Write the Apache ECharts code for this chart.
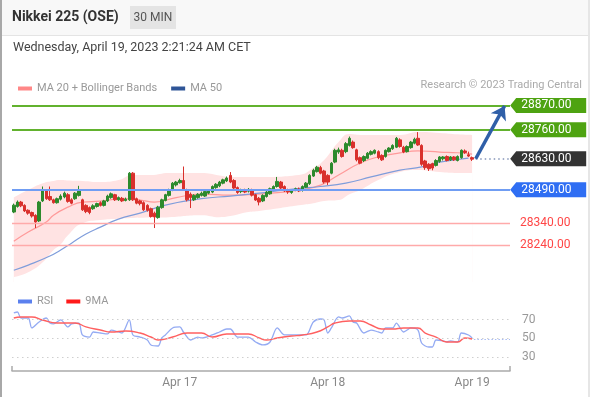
<!DOCTYPE html>
<html>
<head>
<meta charset="utf-8">
<script src="https://cdn.jsdelivr.net/npm/echarts@6/dist/echarts.min.js"></script>
<style>
html, body { margin: 0; padding: 0; background: #fff; }
#chart { width: 590px; height: 397px; }
</style>
</head>
<body>
<div id="chart"></div>
<script>
// 30 min candles, [open, close, low, high]
const candles = [
  [28390,28421,28385,28428],[28415,28435,28410,28442],[28435,28418,28412,28440],[28420,28395,28390,28425],
  [28398,28385,28378,28402],[28388,28372,28365,28392],[28375,28345,28318,28380],[28350,28435,28345,28440],
  [28440,28490,28435,28505],[28485,28450,28445,28492],[28460,28445,28440,28505],[28445,28432,28428,28450],
  [28432,28450,28428,28455],[28448,28462,28442,28470],[28458,28475,28452,28482],[28468,28438,28432,28475],
  [28445,28430,28425,28452],[28450,28475,28445,28480],[28465,28488,28460,28508],[28445,28400,28395,28450],
  [28420,28392,28385,28425],[28410,28388,28380,28415],[28405,28418,28400,28425],[28415,28428,28410,28432],
  [28432,28420,28415,28438],[28420,28440,28415,28445],[28440,28462,28435,28468],[28455,28472,28450,28478],
  [28468,28445,28440,28472],[28445,28455,28440,28460],[28452,28440,28435,28458],[28442,28448,28438,28455],
  [28445,28565,28440,28570],[28565,28445,28440,28570],[28450,28430,28425,28455],[28440,28428,28420,28445],
  [28432,28400,28395,28438],[28420,28398,28392,28425],[28405,28370,28365,28410],[28385,28368,28318,28392],
  [28365,28412,28360,28418],[28410,28445,28405,28450],[28442,28468,28438,28472],[28465,28490,28460,28495],
  [28488,28520,28484,28525],[28512,28525,28505,28530],[28522,28532,28518,28540],[28532,28490,28485,28595],
  [28490,28445,28438,28495],[28470,28455,28408,28478],[28445,28465,28440,28470],[28455,28470,28450,28475],
  [28465,28475,28460,28482],[28462,28482,28458,28488],[28475,28488,28470,28492],[28480,28505,28475,28510],
  [28500,28515,28495,28520],[28508,28525,28502,28530],[28520,28535,28515,28540],[28530,28543,28525,28550],
  [28555,28525,28520,28570],[28532,28498,28492,28538],[28500,28478,28472,28505],[28482,28490,28475,28495],
  [28488,28480,28475,28495],[28484,28492,28478,28498],[28490,28466,28460,28495],[28468,28444,28440,28472],
  [28452,28435,28420,28458],[28440,28465,28435,28470],[28460,28480,28455,28485],[28472,28495,28468,28500],
  [28490,28505,28485,28510],[28505,28528,28500,28548],[28525,28498,28492,28530],[28505,28485,28480,28510],
  [28490,28480,28472,28495],[28478,28488,28472,28492],[28488,28495,28484,28500],[28494,28485,28480,28500],
  [28488,28505,28482,28510],[28502,28520,28498,28525],[28518,28555,28512,28560],[28552,28578,28548,28585],
  [28572,28592,28568,28598],[28590,28565,28560,28598],[28575,28525,28518,28580],[28555,28525,28512,28560],
  [28565,28610,28560,28615],[28615,28668,28610,28675],[28660,28670,28652,28680],[28668,28640,28635,28675],
  [28662,28698,28655,28705],[28690,28722,28685,28730],[28705,28680,28675,28712],[28670,28625,28618,28675],
  [28635,28610,28605,28640],[28622,28640,28615,28645],[28632,28655,28628,28660],[28650,28662,28645,28668],
  [28655,28668,28650,28672],[28662,28635,28628,28668],[28645,28625,28620,28650],[28640,28668,28635,28672],
  [28662,28678,28658,28682],[28675,28690,28670,28695],[28682,28722,28678,28728],[28715,28685,28680,28722],
  [28682,28660,28655,28688],[28662,28685,28658,28690],[28680,28705,28675,28710],[28700,28718,28695,28725],
  [28722,28692,28688,28750],[28690,28605,28598,28695],[28620,28590,28580,28625],[28605,28585,28575,28610],
  [28608,28588,28578,28612],[28600,28622,28595,28628],[28618,28638,28612,28642],[28630,28638,28622,28642],
  [28640,28622,28618,28645],[28625,28638,28620,28642],[28638,28625,28620,28642],[28622,28640,28618,28645],
  [28635,28668,28630,28672],[28665,28658,28652,28672],[28648,28642,28638,28662],[28635,28628,28620,28640]
];

// slots on the time axis (candles + room for the projection)
const slotCount = 138;
const dayLabels = { 46: 'Apr 17', 87: 'Apr 18', 127: 'Apr 19' };

// [bar index, value]
const ma20 = [[0,28259],[4,28300],[9,28345],[11,28376],[15,28412],[19,28435],[24,28439],[30,28450],[35,28444],
  [39,28435],[45,28455],[52,28471],[60,28466],[68,28471],[79,28489],[85,28511],[90,28557],[96,28611],
  [101,28638],[107,28656],[112,28665],[118,28660],[123,28657],[127,28651]];
const ma50 = [[0,28128],[4,28151],[10,28192],[13,28219],[16,28250],[20,28291],[24,28322],[29,28358],[35,28385],
  [42,28421],[52,28450],[60,28462],[68,28475],[78,28495],[85,28505],[92,28520],[99,28548],[107,28579],
  [113,28593],[118,28615],[126,28633]];
const bbUpper = [[0,28455],[4,28490],[8,28520],[11,28530],[13,28534],[15,28532],[19,28530],[24,28525],[29,28534],
  [33,28557],[38,28557],[43,28566],[52,28566],[57,28555],[60,28548],[65,28548],[68,28548],[79,28557],
  [83,28588],[86,28624],[90,28705],[93,28741],[96,28737],[101,28737],[107,28737],[112,28750],[118,28746],
  [123,28740],[127,28737]];
const bbLower = [[0,28097],[4,28119],[8,28164],[11,28219],[13,28245],[15,28286],[19,28340],[24,28354],[29,28360],
  [33,28363],[38,28365],[43,28367],[52,28376],[57,28367],[60,28372],[65,28390],[68,28395],[79,28421],
  [83,28430],[86,28440],[90,28444],[93,28470],[96,28489],[101,28534],[107,28570],[112,28579],[118,28570],
  [123,28566],[127,28566]];

const rsi = [[0,77.2],[1,78.2],[2,71.8],[4,71.8],[5,61.1],[7,67.5],[9,71.8],[10,66.4],[11,65.4],[13,69.7],
  [15,62.2],[16,65.4],[18,66.4],[19,53.6],[21,51.4],[22,56.8],[24,55.7],[26,54.7],[27,58.9],[29,56.8],
  [30,55.7],[32,69.7],[33,53.6],[35,51.4],[37,48.2],[38,42.9],[40,41.8],[41,50.4],[42,53.6],[44,61.1],
  [46,62.2],[47,56.8],[49,48.2],[51,51.4],[52,50.4],[55,53.6],[57,56.8],[59,60.0],[60,60.0],[62,51.4],
  [65,51.4],[67,46.1],[69,42.9],[71,46.1],[73,61.1],[75,53.6],[77,53.6],[79,53.6],[81,53.6],[83,67.5],
  [85,70.7],[86,69.7],[87,55.7],[88,61.1],[90,72.9],[91,71.8],[93,74.0],[94,67.5],[95,66.4],[97,55.7],
  [99,58.9],[101,56.8],[102,55.7],[103,61.1],[105,61.1],[106,66.4],[108,56.8],[109,58.9],[110,61.1],
  [112,58.9],[113,45.0],[115,40.7],[116,40.7],[117,48.2],[119,47.2],[120,46.1],[121,47.2],[123,46.1],
  [124,55.7],[126,53.6],[127,50.4]];
const rsiMa9 = [[0,71.8],[2,72.9],[5,72.9],[8,69.7],[12,66.4],[17,66.4],[20,62.2],[24,58.9],[27,56.8],[31,57.9],
  [35,55.7],[38,51.4],[40,48.2],[44,51.4],[48,55.7],[52,55.7],[55,51.4],[59,54.7],[65,54.7],[68,50.4],
  [70,48.2],[73,50.4],[77,52.5],[80,53.6],[84,56.8],[87,62.2],[89,66.4],[93,68.6],[96,68.6],[99,64.3],
  [102,60.0],[105,60.0],[108,61.1],[112,61.1],[114,55.7],[117,51.4],[120,46.1],[123,46.1],[125,50.4],[127,49.3]];
const rsiLevels = [30, 50, 70];

// key levels
const resist2 = 28870, resist1 = 28760, pivot = 28630, support1 = 28490, support2 = 28340, support3 = 28240;
const lastPrice = 28630, lastRsi = 49;
const arrowFrom = 128, arrowTo = 136;

const FONT = 'Roboto, "Liberation Sans", sans-serif';
const chart = echarts.init(document.getElementById('chart'), null, { renderer: 'canvas' });

const cats = [];
for (let i = 0; i < slotCount; i++) cats.push(String(i));
const tagPath = 'path://M0,7.5L6,0L76,0L76,15L6,15Z';
const fmt = v => Number(v).toFixed(2);

function tag(v, color) {
  return {
    coord: [slotCount - 1, v], value: v,
    itemStyle: { color: color },
    label: { show: true, position: [11, 7.5], align: 'left', verticalAlign: 'middle',
      color: '#fff', fontSize: 12, fontFamily: FONT, formatter: p => fmt(p.value) }
  };
}
function redLevel(v) {
  return {
    yAxis: v, lineStyle: { color: '#ffaaaa', width: 1.3, type: 'solid' },
    label: { show: true, position: 'end', distance: 10, color: '#ff4646', fontSize: 12,
      fontFamily: FONT, formatter: p => fmt(p.value) }
  };
}

const option = {
  animation: false,
  textStyle: { fontFamily: FONT },
  graphic: [
    { type: 'rect', shape: { x: 0, y: 0, width: 590, height: 35 }, style: { fill: '#f8f8f8' } },
    { type: 'rect', shape: { x: 0, y: 35, width: 590, height: 1 }, style: { fill: '#e4e4e4' } },
    { type: 'rect', shape: { x: 0, y: 0, width: 2, height: 397 }, style: { fill: '#a8a8a8' } },
    { type: 'rect', shape: { x: 588, y: 0, width: 2, height: 397 }, style: { fill: '#e6e6e6' } },
    { type: 'text', x: 12, y: 17.5, style: { text: 'Nikkei 225 (OSE)', font: 'bold 14px ' + FONT,
      fill: '#333', verticalAlign: 'middle' } },
    { type: 'rect', shape: { x: 130, y: 6, width: 46, height: 23 }, style: { fill: '#e4e4e4' } },
    { type: 'text', x: 153, y: 17.5, style: { text: '30 MIN', font: '12px ' + FONT, fill: '#555',
      align: 'center', verticalAlign: 'middle' } },
    { type: 'text', x: 13, y: 48, style: { text: 'Wednesday, April 19, 2023 2:21:24 AM CET',
      font: '12.5px ' + FONT, fill: '#444', verticalAlign: 'middle' } },
    { type: 'text', x: 582, y: 85, style: { text: 'Research \u00a9 2023 Trading Central',
      font: '11px ' + FONT, fill: '#aaa', align: 'right', verticalAlign: 'middle' } }
  ],
  legend: [
    { left: 13, top: 78, icon: 'rect', itemWidth: 14, itemHeight: 4, itemGap: 14, selectedMode: false,
      textStyle: { color: '#999', fontSize: 11 },
      data: [{ name: 'MA 20 + Bollinger Bands', itemStyle: { color: '#ff8787' } },
             { name: 'MA 50', itemStyle: { color: '#2f5597' } }] },
    { left: 13, top: 291, icon: 'rect', itemWidth: 14, itemHeight: 4, itemGap: 13, selectedMode: false,
      textStyle: { color: '#999', fontSize: 11 },
      data: [{ name: 'RSI', itemStyle: { color: '#5b80ee' } },
             { name: '9MA', itemStyle: { color: '#ff1a1a' } }] }
  ],
  grid: [
    { left: 12, right: 80, top: 95, height: 187 },
    { left: 12, right: 80, top: 301, height: 70 }
  ],
  xAxis: [
    { type: 'category', gridIndex: 0, data: cats, boundaryGap: true, show: false },
    { type: 'value', gridIndex: 0, min: -0.5, max: slotCount - 0.5, show: false },
    { type: 'value', gridIndex: 1, min: -0.5, max: slotCount - 0.5,
      axisLine: { show: true, lineStyle: { color: '#aaa', width: 1.5 } },
      axisTick: { show: true, inside: true, length: 5, customValues: [-0.5, slotCount - 0.5],
        lineStyle: { color: '#aaa', width: 1.5 } },
      axisLabel: { customValues: Object.keys(dayLabels).map(Number), formatter: v => dayLabels[v] || '',
        color: '#888', fontSize: 12, margin: 6 },
      splitLine: { show: false } }
  ],
  yAxis: [
    { type: 'value', gridIndex: 0, min: 28075, max: 28917, show: false },
    { type: 'value', gridIndex: 1, min: 15, max: 90, position: 'right',
      axisLine: { show: false }, axisTick: { show: false }, splitLine: { show: false },
      axisLabel: { customValues: rsiLevels, color: '#999', fontSize: 12, margin: 12 } }
  ],
  series: [
    // band: pink area under the upper band, masked in white under the lower band
    { name: 'bbUpper', type: 'line', xAxisIndex: 1, yAxisIndex: 0, data: bbUpper,
      smooth: true, symbol: 'none', silent: true, lineStyle: { opacity: 0 },
      areaStyle: { color: '#ffe3e3', opacity: 1, origin: 'start' }, z: 1 },
    { name: 'bbLower', type: 'line', xAxisIndex: 1, yAxisIndex: 0, data: bbLower,
      smooth: true, symbol: 'none', silent: true, lineStyle: { opacity: 0 },
      areaStyle: { color: '#ffffff', opacity: 1, origin: 'start' }, z: 1 },
    { name: 'MA 20 + Bollinger Bands', type: 'line', xAxisIndex: 1, yAxisIndex: 0, data: ma20,
      smooth: true, symbol: 'none', lineStyle: { color: '#ff9a9a', width: 1.2 }, itemStyle: { color: '#ff8787' }, z: 2 },
    { name: 'MA 50', type: 'line', xAxisIndex: 1, yAxisIndex: 0, data: ma50,
      smooth: true, symbol: 'none', lineStyle: { color: '#7f9ddb', width: 1.2 }, itemStyle: { color: '#2f5597' }, z: 2 },
    { name: 'levels', type: 'line', xAxisIndex: 1, yAxisIndex: 0, data: [], z: 3,
      markLine: {
        silent: true, symbol: 'none', label: { show: false },
        data: [
          { yAxis: resist2, lineStyle: { color: '#62b22e', width: 2, type: 'solid' } },
          { yAxis: resist1, lineStyle: { color: '#62b22e', width: 2, type: 'solid' } },
          { yAxis: support1, lineStyle: { color: '#709df3', width: 2, type: 'solid' } },
          redLevel(support2),
          redLevel(support3),
          [{ coord: [arrowFrom, pivot], lineStyle: { color: '#8494b8', width: 1.5, type: [1.5, 3] } },
           { coord: [slotCount - 0.5, pivot] }],
          [{ coord: [arrowFrom, lastPrice], lineStyle: { color: '#2f5fa8', width: 3.5, type: 'solid' } },
           { coord: [arrowTo, resist2 - 2], symbol: 'arrow', symbolSize: 13 }]
        ]
      },
      markPoint: {
        silent: true, symbol: tagPath, symbolSize: [76, 15], symbolOffset: [40, 0],
        data: [tag(resist2, '#4ea311'), tag(resist1, '#4ea311'), tag(pivot, '#333333'), tag(support1, '#2f6ef3')]
      }
    },
    { name: 'price', type: 'candlestick', xAxisIndex: 0, yAxisIndex: 0, data: candles, barWidth: 3, z: 4,
      itemStyle: { color: '#2d8a2d', color0: '#d9302c', borderColor: '#2d8a2d', borderColor0: '#d9302c', borderWidth: 1 } },
    { name: 'RSI', type: 'line', xAxisIndex: 2, yAxisIndex: 1, data: rsi, smooth: 0.3, symbol: 'none',
      lineStyle: { color: '#94abf3', width: 1.3 }, itemStyle: { color: '#5b80ee' }, z: 3,
      markLine: {
        silent: true, symbol: 'none', label: { show: false },
        data: rsiLevels.map(v => ({ yAxis: v, lineStyle: { color: '#cfcfcf', width: 1, type: [1.5, 3.5] } }))
          .concat([[{ coord: [arrowFrom - 0.5, lastRsi], lineStyle: { color: '#a8bcf5', width: 1.2, type: [1.5, 2] } },
                    { coord: [slotCount - 0.5, lastRsi] }]])
      } },
    { name: '9MA', type: 'line', xAxisIndex: 2, yAxisIndex: 1, data: rsiMa9, smooth: true, symbol: 'none',
      lineStyle: { color: '#ff6060', width: 1.4 }, itemStyle: { color: '#ff1a1a' }, z: 4 }
  ]
};
chart.setOption(option);
</script>
</body>
</html>
